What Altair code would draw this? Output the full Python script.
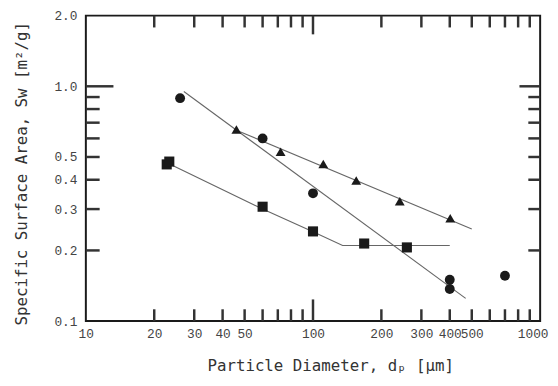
import altair as alt
import pandas as pd

# ---- data ----
circle_x = [26, 60, 100, 400, 400, 700]
circle_y = [0.89, 0.60, 0.35, 0.150, 0.137, 0.156]
tri_x = [46, 72, 111, 155, 241, 402]
tri_y = [0.655, 0.526, 0.467, 0.397, 0.324, 0.274]
sq_x = [22.7, 23.3, 60, 100, 168, 259]
sq_y = [0.465, 0.478, 0.307, 0.241, 0.214, 0.206]

steep_x = [27, 470]
steep_y = [0.95, 0.125]
triline_x = [46, 500]
triline_y = [0.65, 0.247]
sqline_x = [23, 60, 100, 135, 400]
sqline_y = [0.47, 0.30, 0.24, 0.21, 0.21]

x_labels = [10, 20, 30, 40, 50, 100, 200, 300, 400, 500, 1000]
y_labels = [0.1, 0.2, 0.3, 0.4, 0.5, 1.0, 2.0]
x_minor = [20, 30, 40, 50, 60, 70, 80, 90, 200, 300, 400, 500, 600, 700, 800, 900]
x_major = [100]
y_minor = [0.2, 0.3, 0.4, 0.5, 0.6, 0.7, 0.8, 0.9]
y_major = [1.0]

W, H = 461, 310
ink = "#1a1a1a"
tick_ink = "#333333"

xs = alt.Scale(type="log", domain=[10, 1000], nice=False)
ys = alt.Scale(type="log", domain=[0.1, 2.0], nice=False)

pts_c = pd.DataFrame({"x": circle_x, "y": circle_y})
pts_t = pd.DataFrame({"x": tri_x, "y": tri_y})
pts_s = pd.DataFrame({"x": sq_x, "y": sq_y})

lines = pd.concat([
    pd.DataFrame({"x": steep_x, "y": steep_y, "s": "steep", "o": range(len(steep_x))}),
    pd.DataFrame({"x": triline_x, "y": triline_y, "s": "tri", "o": range(len(triline_x))}),
    pd.DataFrame({"x": sqline_x, "y": sqline_y, "s": "sq", "o": range(len(sqline_x))}),
])

x_axis = alt.Axis(
    values=x_labels, format="d", title="Particle Diameter, dₚ [μm]",
    titleX=248, titleY=45, titleAlign="center", titleBaseline="middle",
    labelPadding=7, labelOverlap=False, labelFlush=True, labelFlushOffset=8,
    ticks=False, domain=False, grid=False)
y_axis = alt.Axis(
    values=y_labels, format=".1f", title="Specific Surface Area, Sw [m²/g]",
    titleX=-65, titleY=160, titleAngle=-90, titleAlign="center", titleBaseline="middle",
    labelPadding=9, labelOverlap=False, labelFlush=False,
    ticks=False, domain=False, grid=False)

line_layer = alt.Chart(lines).mark_line(color="#666", strokeWidth=1.1).encode(
    x=alt.X("x:Q", scale=xs, axis=x_axis),
    y=alt.Y("y:Q", scale=ys, axis=y_axis),
    detail="s:N", order="o:Q",
)

def pts(df, shape, size):
    return alt.Chart(df).mark_point(filled=True, shape=shape, size=size, color=ink, opacity=1).encode(
        x=alt.X("x:Q", scale=xs), y=alt.Y("y:Q", scale=ys),
    )

def xticks(vals, y0, y1):
    return alt.Chart(pd.DataFrame({"v": vals})).mark_rule(color=tick_ink, strokeWidth=2.5).encode(
        x=alt.X("v:Q", scale=xs), y=alt.value(y0), y2=alt.value(y1))

def yticks(vals, x0, x1):
    return alt.Chart(pd.DataFrame({"v": vals})).mark_rule(color=tick_ink, strokeWidth=2.5).encode(
        y=alt.Y("v:Q", scale=ys), x=alt.value(x0), x2=alt.value(x1))

chart = alt.layer(
    line_layer,
    xticks(x_minor, H, H - 12), xticks(x_major, H, H - 22),
    xticks(x_minor, 0, 12), xticks(x_major, 0, 19),
    yticks(y_minor, 0, 14), yticks(y_major, 0, 28),
    yticks(y_minor, W, W - 12), yticks(y_major, W, W - 21),
    pts(pts_c, "circle", 100),
    pts(pts_t, "triangle-up", 100),
    pts(pts_s, "square", 105),
).properties(
    width=W, height=H, autosize="none",
    padding={"left": 79, "top": 5, "right": 10, "bottom": 55},
).configure_view(
    stroke=ink, strokeWidth=2
).configure_axis(
    labelFont="Liberation Mono", labelFontSize=13, labelColor="#444",
    titleFont="DejaVu Sans Mono", titleFontSize=16, titleColor="#333", titleFontWeight="normal",
)

chart.save("out.html", embed_options={"renderer": "svg", "actions": False})
